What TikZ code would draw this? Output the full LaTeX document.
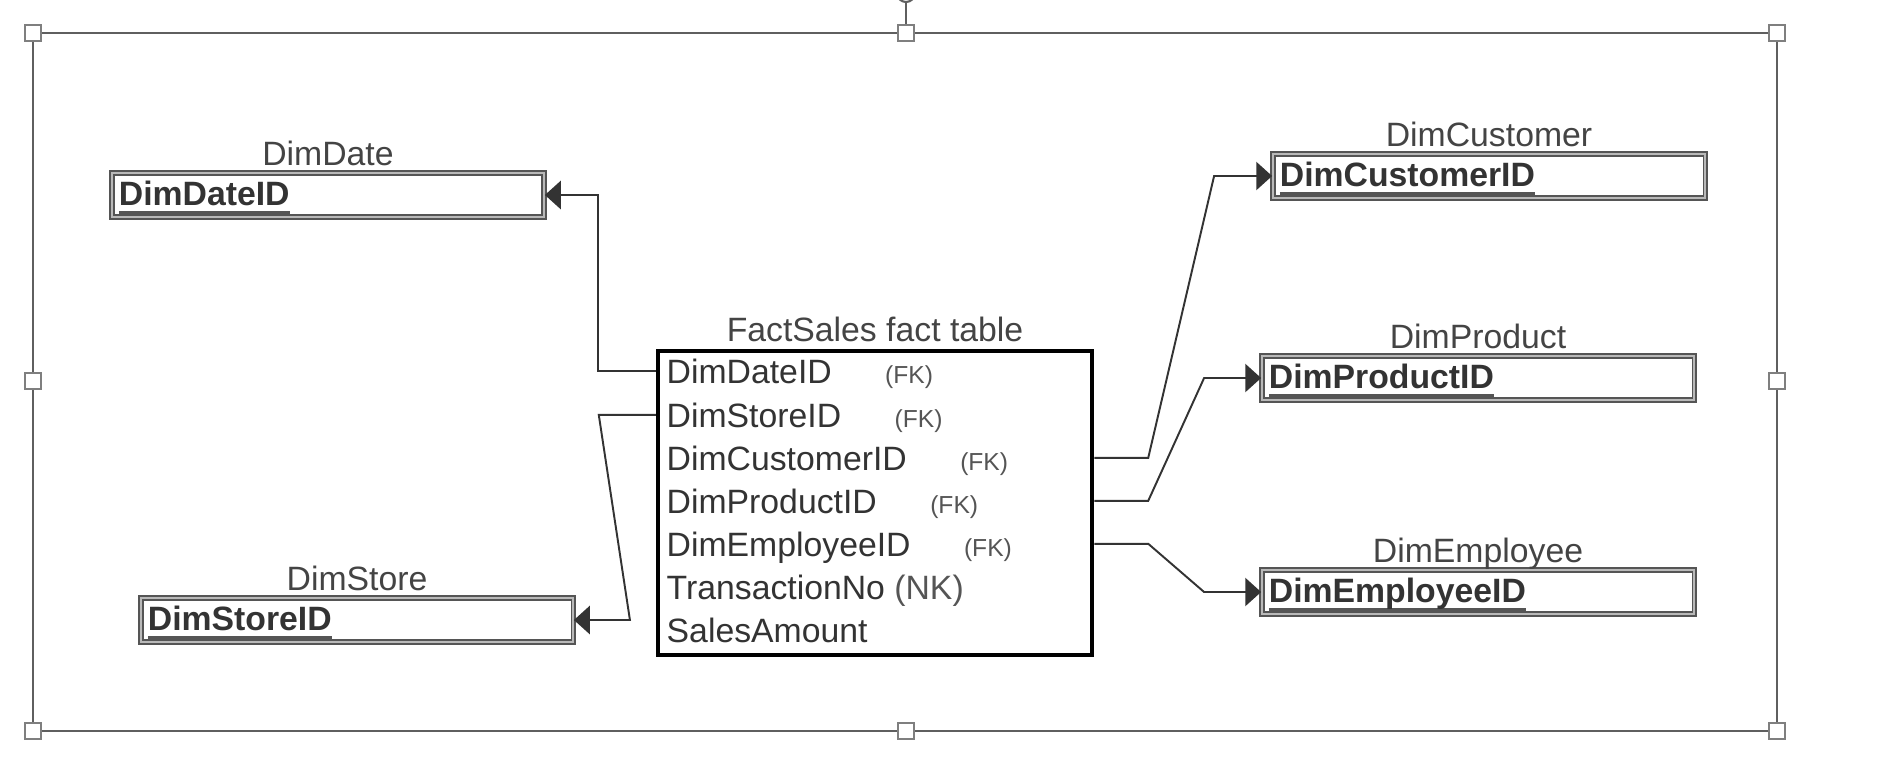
\documentclass[tikz,border=0pt]{standalone}
\usepackage{fontspec}
\setmainfont{Liberation Sans}
\usepackage{xcolor}
\definecolor{inkGray}{HTML}{333333}
\definecolor{titleGray}{HTML}{444444}
\definecolor{keyGray}{HTML}{555555}
\definecolor{frameGray}{HTML}{5F5F5F}
\usepackage{tikz}
\usetikzlibrary{arrows.meta, positioning, calc}

\newcommand{\keyField}[1]{%
    \setbox0=\hbox{\textbf{#1}}%
    \rlap{\textcolor{keyGray}{\rule[-2.4pt]{\wd0}{0.9pt}}}\box0}

\begin{document}
\begin{tikzpicture}[
        x=0.01cm, y=-0.01cm,
        >={Triangle[length=4.5pt, width=8pt]},
        dimBox/.style={
            draw=keyGray,
            line width=0.45pt,
            double=gray!55,
            double distance=0.6pt,
            minimum width=4.32cm,
            minimum height=0.44cm,
            text width=4.18cm,
            inner xsep=0pt,
            inner ysep=0pt,
            text height=8pt,
            text depth=2pt,
            align=left,
            font=\fontsize{9.6}{11}\selectfont,
            text=inkGray
        },
        factBox/.style={
            draw=black,
            line width=1.2pt,
            minimum width=4.34cm,
            minimum height=3.04cm
        },
        tableTitle/.style={
            inner sep=0pt,
            font=\fontsize{9.6}{11}\selectfont,
            text=titleGray
        },
        rowText/.style={
            anchor=base west,
            inner sep=0pt,
            text depth=0pt,
            font=\fontsize{9.6}{11}\selectfont,
            text=inkGray
        },
        fkText/.style={
            inner sep=0pt,
            font=\fontsize{7}{8}\selectfont,
            text=keyGray
        },
        fkLink/.style={
            ->,
            draw=inkGray,
            line width=0.55pt
        },
        frameLine/.style={
            draw=frameGray,
            line width=0.6pt
        },
        handleBox/.style={
            draw=frameGray!80,
            fill=white,
            line width=0.4pt,
            minimum size=0.16cm,
            inner sep=0pt
        }
    ]
    \useasboundingbox (0,0) rectangle (1892,778);

    % selection frame
    \coordinate (frameNW) at (33,33);
    \coordinate (frameSE) at (1777,731);
    \draw[frameLine] (frameNW) rectangle (frameSE);
    \draw[frameLine] (906,33) -- (906,2);
    \draw[frameLine, fill=white] (906,-7) circle (9);
    \node[handleBox] (hNW) at (33,33) {};
    \node[handleBox] (hN) at (906,33) {};
    \node[handleBox] (hNE) at (1777,33) {};
    \node[handleBox] (hW) at (33,381) {};
    \node[handleBox] (hE) at (1777,381) {};
    \node[handleBox] (hSW) at (33,731) {};
    \node[handleBox] (hS) at (906,731) {};
    \node[handleBox] (hSE) at (1777,731) {};

    % dimension tables
    \node[dimBox] (dateBox) at (328,195) {\keyField{DimDateID}};
    \node[tableTitle, above=2pt of dateBox, anchor=base] (dateTitle) {DimDate};

    \node[dimBox] (storeBox) at (357,620) {\keyField{DimStoreID}};
    \node[tableTitle, above=2pt of storeBox, anchor=base] (storeTitle) {DimStore};

    \node[dimBox] (custBox) at (1489,176) {\keyField{DimCustomerID}};
    \node[tableTitle, above=2pt of custBox, anchor=base] (custTitle) {DimCustomer};

    \node[dimBox] (prodBox) at (1478,378) {\keyField{DimProductID}};
    \node[tableTitle, above=2pt of prodBox, anchor=base] (prodTitle) {DimProduct};

    \node[dimBox] (emplBox) at (1478,592) {\keyField{DimEmployeeID}};
    \node[tableTitle, above=2pt of emplBox, anchor=base] (emplTitle) {DimEmployee};

    % fact table
    \node[factBox] (fact) at (875,503) {};
    \node[tableTitle, above=2.2pt of fact, anchor=base] (factTitle) {FactSales fact table};

    \node[rowText] (dateRow) at (666,383) {DimDateID};
    \node[fkText, base right=0.52cm of dateRow] (dateFK) {(FK)};
    \node[rowText] (storeRow) at (666,427) {DimStoreID};
    \node[fkText, base right=0.52cm of storeRow] (storeFK) {(FK)};
    \node[rowText] (custRow) at (666,470) {DimCustomerID};
    \node[fkText, base right=0.52cm of custRow] (custFK) {(FK)};
    \node[rowText] (prodRow) at (666,513) {DimProductID};
    \node[fkText, base right=0.52cm of prodRow] (prodFK) {(FK)};
    \node[rowText] (emplRow) at (666,556) {DimEmployeeID};
    \node[fkText, base right=0.52cm of emplRow] (emplFK) {(FK)};
    \node[rowText] (tranRow) at (666,599) {TransactionNo \textcolor{keyGray}{(NK)}};
    \node[rowText] (salesRow) at (666,642) {SalesAmount};

    % foreign keys
    \draw[fkLink] (fact.west |- dateRow.west) -- ++(-58,0) |- (dateBox.east);
    \draw[fkLink] (fact.west |- storeRow.west) -- ++(-57,0) -- ($(storeBox.east)+(56,0)$) -- (storeBox.east);
    \draw[fkLink] (fact.east |- custRow.west) -- ++(54,0) -- ($(custBox.west)+(-58,0)$) -- (custBox.west);
    \draw[fkLink] (fact.east |- prodRow.west) -- ++(54,0) -- ($(prodBox.west)+(-57,0)$) -- (prodBox.west);
    \draw[fkLink] (fact.east |- emplRow.west) -- ++(54,0) -- ($(emplBox.west)+(-57,0)$) -- (emplBox.west);

\end{tikzpicture}
\end{document}
